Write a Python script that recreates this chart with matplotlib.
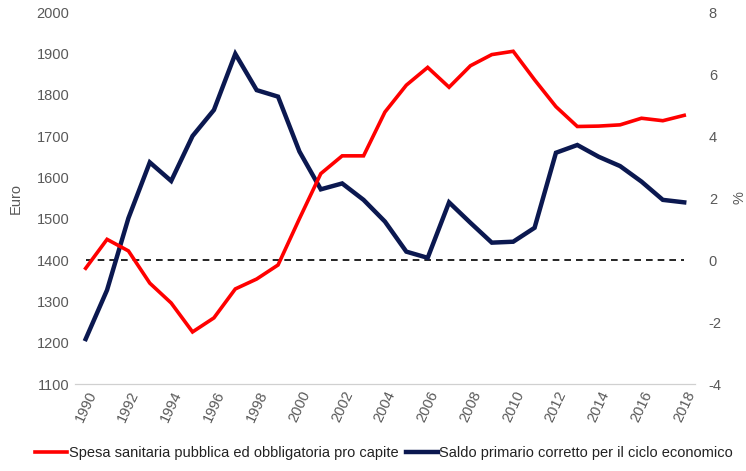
import matplotlib
matplotlib.use("Agg")
import matplotlib.pyplot as plt

# Dati
anni = list(range(1990, 2019))
spesa_pro_capite = [1380, 1450, 1422, 1344, 1296, 1226, 1260, 1330, 1354, 1388,
                    1500, 1609, 1652, 1652, 1758, 1823, 1866, 1818, 1870, 1897,
                    1905, 1836, 1771, 1723, 1724, 1727, 1743, 1737, 1750]
saldo_primario = [-2.55, -0.97, 1.35, 3.15, 2.55, 4.0, 4.84, 6.65, 5.48, 5.27,
                  3.5, 2.28, 2.47, 1.94, 1.24, 0.27, 0.07, 1.86, 1.2, 0.56,
                  0.59, 1.04, 3.46, 3.71, 3.33, 3.03, 2.53, 1.94, 1.86]
etichette_anni = [str(a) if a % 2 == 0 else "" for a in anni]

ROSSO = "#ff0000"
BLU = "#0b1850"
GRIGIO = "#595959"
plt.rcParams["font.family"] = ["Liberation Sans", "DejaVu Sans"]
plt.rcParams["axes.unicode_minus"] = False

fig = plt.figure(figsize=(7.46, 4.71), dpi=100)
ax = fig.add_axes([0.1005, 0.1847, 0.831, 0.7898])
ax2 = ax.twinx()

x = list(range(len(anni)))

# Linea tratteggiata sullo zero (asse destro)
ax2.plot(x, [0] * len(x), color="black", linestyle=(0, (4, 3)), linewidth=1.2)

l1, = ax.plot(x, spesa_pro_capite, color=ROSSO, linewidth=2.6, solid_joinstyle="miter")
l2, = ax2.plot(x, saldo_primario, color=BLU, linewidth=3.2, solid_joinstyle="miter")
ax.set_zorder(ax2.get_zorder() + 1)
ax.patch.set_visible(False)

ax.set_xlim(-0.5, len(x) - 0.5)
ax.set_ylim(1100, 2000)
ax.set_yticks(range(1100, 2001, 100))
ax2.set_ylim(-4, 8)
ax2.set_yticks(range(-4, 9, 2))

ax.set_xticks(x)
ax.set_xticklabels(etichette_anni, rotation=65, ha="center", fontsize=10.5, color=GRIGIO)

for a in (ax, ax2):
    for s in ("top", "left", "right"):
        a.spines[s].set_visible(False)
    a.spines["bottom"].set_color("#d0d0d0")
    a.tick_params(length=0, labelsize=10.5, labelcolor=GRIGIO)
ax.tick_params(axis="y", pad=4)
ax2.tick_params(axis="y", pad=10)

ax.set_ylabel("Euro", color=GRIGIO, fontsize=10.5, labelpad=10)
ax2.set_ylabel("%", color=GRIGIO, fontsize=10.5, labelpad=8)

fig.legend([l1, l2],
           ["Spesa sanitaria pubblica ed obbligatoria pro capite",
            "Saldo primario corretto per il ciclo economico"],
           loc="lower center", bbox_to_anchor=(0.515, -0.005), ncol=2, frameon=False,
           fontsize=10.5, handlelength=2.2, handletextpad=0.1, columnspacing=0.5,
           labelcolor="#222222")

fig.savefig("out.png", dpi=100)
